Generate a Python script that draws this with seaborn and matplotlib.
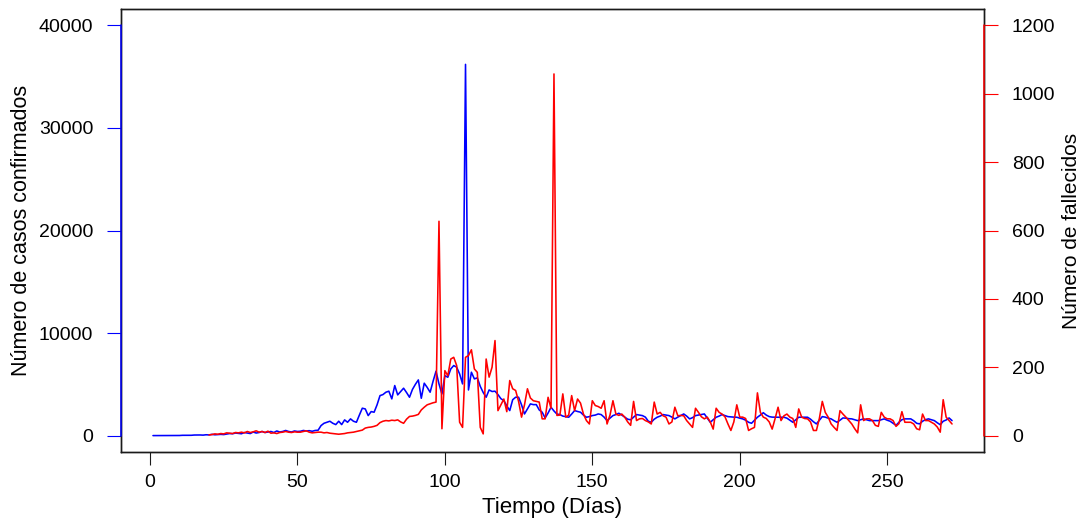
import numpy as np
import pandas as pd
import matplotlib
matplotlib.use("Agg")
import matplotlib.pyplot as plt
import seaborn as sns

# ---- data ----
casos = [
    0, 0, 0, 1, 2, 2, 1, 7, 5, 10,                      # 1-10
    28, 33, 29, 30, 55, 60, 60, 45, 80, 65,             # 11-20
    120, 80, 100, 120, 100, 150, 200, 180, 250, 220,    # 21-30
    180, 300, 250, 200, 350, 250, 300, 400, 300, 350,   # 31-40
    400, 300, 450, 350, 400, 500, 400, 350, 450, 400,   # 41-50
    420, 500, 450, 480, 420, 500, 520, 976, 1200, 1300, # 51-60
    1400, 1200, 1073, 1400, 1073, 1530, 1300, 1630, 1400, 1300,  # 61-70
    2000, 2670, 2600, 1950, 2340, 2280, 3000, 3900, 4000, 4230,  # 71-80
    4330, 3580, 4880, 3970, 4300, 4620, 4200, 3740, 4500, 5000,  # 81-90
    5430, 3640, 5110, 4700, 4230, 5300, 6280, 5040, 4060, 5850,  # 91-100
    5690, 6500, 6830, 6670, 6010, 5040, 36200, 4450, 6180, 5530, # 101-110
    5630, 4800, 4200, 3740, 4450, 4300, 4330, 4000, 3600, 3410,  # 111-120
    2900, 2440, 3500, 3740, 3740, 3000, 2110, 2600, 3090, 3020,  # 121-130
    3020, 2500, 2280, 1720, 2200, 2760, 2400, 2100, 2050, 1900,  # 131-140
    1850, 1790, 2100, 2440, 2350, 2280, 2000, 1790, 1850, 1950,  # 141-150
    2000, 2110, 2050, 1800, 1460, 1700, 1950, 2050, 2180, 2000,  # 151-160
    1800, 1600, 1540, 1800, 2050, 2000, 1950, 1800, 1400, 1300,  # 161-170
    1600, 1790, 1900, 2050, 2000, 1950, 1800, 1630, 1800, 1950,  # 171-180
    2110, 1900, 1630, 1750, 1950, 2000, 2050, 2110, 1700, 1300,  # 181-190
    1550, 1790, 1900, 2050, 1950, 1850, 1820, 1800, 1790, 1700,  # 191-200
    1630, 1500, 1300, 1200, 1500, 1790, 2000, 2230, 2000, 1850,  # 201-210
    1800, 1790, 1790, 1790, 1790, 1700, 1500, 1300, 1550, 1790,  # 211-220
    1790, 1790, 1790, 1600, 1350, 1140, 1500, 1850, 1800, 1700,  # 221-230
    1630, 1450, 1300, 1500, 1720, 1700, 1650, 1630, 1550, 1460,  # 231-240
    1550, 1630, 1550, 1460, 1460, 1460, 1460, 1550, 1630, 1500,  # 241-250
    1400, 1200, 1000, 1300, 1550, 1630, 1630, 1630, 1450, 1200,  # 251-260
    1140, 1400, 1550, 1630, 1550, 1460, 1250, 1060, 1400, 1520,  # 261-270
    1720, 1460,                                                  # 271-272
]
dias_casos = list(range(1, len(casos) + 1))

fallecidos = [
    2, 3, 5, 4, 6, 5, 8, 7, 6, 9,            # 20-29
    8, 10, 8, 12, 9, 11, 14, 10, 12, 9,      # 30-39
    13, 7, 8, 6, 9, 10, 12, 10, 9, 11,       # 40-49
    10, 10, 12, 14, 10, 8, 9, 10, 10, 8,     # 50-59
    9, 7, 6, 5, 4, 5, 6, 8, 9, 10,           # 60-69
    12, 14, 16, 22, 24, 25, 27, 30, 38, 42,  # 70-79
    44, 43, 45, 44, 46, 40, 36, 48, 56, 57,  # 80-89
    59, 62, 75, 83, 90, 93, 96, 98, 627, 20, # 90-99
    190, 175, 224, 229, 205, 39, 24, 229, 234, 251,  # 100-109
    195, 185, 24, 5, 224, 171, 200, 278, 73, 90,     # 110-119
    107, 70, 161, 137, 132, 100, 54, 90, 137, 110,   # 120-129
    102, 100, 98, 49, 49, 112, 80, 1058, 59, 60,     # 130-139
    122, 54, 60, 117, 73, 107, 95, 63, 44, 34,       # 140-149
    102, 88, 85, 80, 102, 34, 60, 102, 63, 59,       # 150-159
    63, 54, 40, 30, 100, 44, 49, 50, 44, 40,         # 160-169
    34, 98, 63, 68, 58, 54, 34, 40, 83, 58,          # 170-179
    59, 58, 44, 34, 24, 80, 68, 55, 49, 54,          # 180-189
    40, 19, 80, 68, 63, 55, 34, 15, 40, 90,          # 190-199
    54, 54, 50, 15, 20, 24, 125, 68, 54, 50,         # 200-209
    40, 19, 50, 83, 44, 58, 63, 54, 50, 24,          # 210-219
    78, 54, 50, 49, 40, 15, 15, 50, 100, 68,         # 220-229
    54, 34, 24, 15, 73, 63, 54, 44, 34, 20,          # 230-239
    8, 90, 44, 49, 49, 44, 30, 27, 68, 54,           # 240-249
    49, 49, 44, 27, 35, 70, 39, 39, 39, 34,          # 250-259
    20, 17, 63, 44, 44, 39, 34, 25, 10, 105,         # 260-269
    54, 44, 34,                                      # 270-272
]
dias_fallecidos = list(range(20, 20 + len(fallecidos)))

x_ticks = [0, 50, 100, 150, 200, 250]
y_left_ticks = [0, 10000, 20000, 30000, 40000]
y_right_ticks = [0, 200, 400, 600, 800, 1000, 1200]

df_c = pd.DataFrame({"dia": dias_casos, "casos": casos})
df_f = pd.DataFrame({"dia": dias_fallecidos, "fallecidos": fallecidos})

# ---- style ----
sns.set_style("white")
plt.rcParams["font.family"] = ["Liberation Sans", "DejaVu Sans"]
plt.rcParams["text.color"] = "black"
plt.rcParams["axes.labelcolor"] = "black"
plt.rcParams["xtick.color"] = "black"
plt.rcParams["ytick.color"] = "black"

BLUE = "#0000FF"
RED = "#FF0000"
BOX = "#1a1a1a"

fig = plt.figure(figsize=(10.85, 5.19), dpi=100)
ax = fig.add_axes([121 / 1085, 1 - 452 / 519, (984 - 121) / 1085, (452 - 9) / 519])

sns.lineplot(data=df_c, x="dia", y="casos", ax=ax, color=BLUE, linewidth=1.15,
             estimator=None, errorbar=None)
ax2 = ax.twinx()
sns.lineplot(data=df_f, x="dia", y="fallecidos", ax=ax2, color=RED, linewidth=1.15,
             estimator=None, errorbar=None)

xmin, xmax = 1, len(casos)
pad = 0.04 * (xmax - xmin)
ax.set_xlim(xmin - pad, xmax + pad)
yl = (-0.04 * max(y_left_ticks), 1.04 * max(y_left_ticks))
yr = (-0.04 * max(y_right_ticks), 1.04 * max(y_right_ticks))
ax.set_ylim(*yl)
ax2.set_ylim(*yr)

ax.set_xticks(x_ticks)
ax.set_xticklabels([str(t) for t in x_ticks])
ax.set_yticks(y_left_ticks)
ax.set_yticklabels([str(t) for t in y_left_ticks])
ax2.set_yticks(y_right_ticks)
ax2.set_yticklabels([str(t) for t in y_right_ticks])

for a in (ax, ax2):
    for s in a.spines.values():
        s.set_color(BOX)
        s.set_linewidth(1.0)
        s.set_visible(True)

ax.tick_params(axis="x", direction="out", length=9.5, width=0.8, color=BOX,
               labelcolor="black", pad=6, labelsize=14, bottom=True)
ax.tick_params(axis="y", direction="out", length=10, width=0.8, color=BLUE,
               labelcolor="black", pad=10, labelsize=14, left=True)
ax2.tick_params(axis="y", direction="out", length=10, width=0.8, color=RED,
                labelcolor="black", pad=10, labelsize=14, right=True)

# coloured axis lines over the box (R style axis() lines), spanning first..last tick
def frac(v, lim):
    return (v - lim[0]) / (lim[1] - lim[0])

ax2.plot([0, 0], [frac(0, yl), frac(max(y_left_ticks), yl)], transform=ax2.transAxes,
         color=BLUE, linewidth=1.1, clip_on=False, zorder=10)
ax2.plot([1, 1], [frac(0, yr), frac(max(y_right_ticks), yr)], transform=ax2.transAxes,
         color=RED, linewidth=1.1, clip_on=False, zorder=10)

ax.set_xlabel("Tiempo (Días)", fontsize=16, labelpad=5)
ax.set_ylabel("Número de casos confirmados", fontsize=15.5, labelpad=5)
ax2.set_ylabel("Número de fallecidos", fontsize=15, labelpad=5)

fig.savefig("out.png", dpi=100)
